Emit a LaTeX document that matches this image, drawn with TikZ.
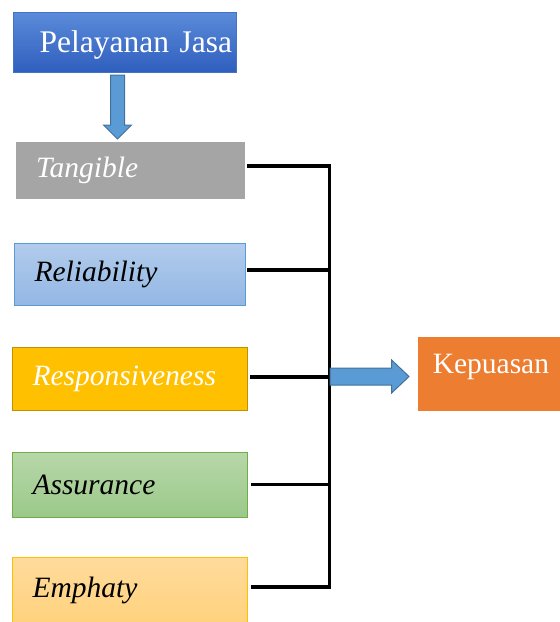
\documentclass[tikz,border=0pt]{standalone}
\usepackage{fontspec}
\setmainfont{Liberation Serif}
\usepackage{xcolor}
\usetikzlibrary{shapes.arrows,positioning}

\definecolor{jasatop}{HTML}{5B8BD9}
\definecolor{jasabot}{HTML}{2F5FBE}
\definecolor{jasaedge}{HTML}{4472C4}
\definecolor{arrfill}{HTML}{5B9BD5}
\definecolor{arredge}{HTML}{41719C}
\definecolor{tanggray}{HTML}{A5A5A5}
\definecolor{reltop}{HTML}{B2CCEC}
\definecolor{relbot}{HTML}{93B7E4}
\definecolor{reledge}{HTML}{5B9BD5}
\definecolor{resgold}{HTML}{FFC000}
\definecolor{resedge}{HTML}{BF9000}
\definecolor{asstop}{HTML}{B7D7A9}
\definecolor{assbot}{HTML}{9BC98A}
\definecolor{assedge}{HTML}{70AD47}
\definecolor{emptop}{HTML}{FFDB9C}
\definecolor{empbot}{HTML}{FFD27D}
\definecolor{empedge}{HTML}{FFC000}
\definecolor{puasorange}{HTML}{ED7D31}

\begin{document}
\begin{tikzpicture}[
    x=1pt, y=-1pt,
    dimbox/.style={rectangle, draw, line width=1pt, inner xsep=20pt, text width=195pt, align=left, font=\fontsize{29.5}{31}\selectfont\itshape},
    jasabox/.style={rectangle, draw=jasaedge, line width=1pt, top color=jasatop, bottom color=jasabot, inner xsep=4pt, text width=215pt, align=right, minimum height=60pt, text=white, text depth=0pt, font=\fontsize{31.5}{33}\selectfont},
    puasbox/.style={rectangle, fill=puasorange, minimum width=146pt, minimum height=74pt, text=white, text height=19pt, text depth=19pt, font=\fontsize{29.5}{31}\selectfont},
    blockarr/.style={single arrow, draw=arredge, fill=arrfill, line width=1pt, inner xsep=0pt},
    link/.style={draw, line width=3.5pt}
]
    \useasboundingbox (0,0) rectangle (560,622);

    % Input
    \node [jasabox] (jasa) at (124.5,42) {Pelayanan Jasa};
    \node [blockarr, rotate=-90, anchor=tail, inner ysep=6.5pt, minimum height=64pt, single arrow head extend=7pt] (arrdown) at ([xshift=-7pt,yshift=-2pt]jasa.south) {};

    % Dimensions
    \node [dimbox, fill=tanggray, draw=tanggray, text=white, text width=188pt, minimum height=56pt, below=69pt of jasa, xshift=5.5pt] (tangible) {Tangible};
    \node [dimbox, top color=reltop, bottom color=relbot, draw=reledge, text width=191pt, minimum height=62pt, below=44pt of tangible] (reliab) {Reliability};
    \node [dimbox, fill=resgold, draw=resedge, text=white, minimum height=63pt, below=41pt of reliab] (respons) {Responsiveness};
    \node [dimbox, top color=asstop, bottom color=assbot, draw=assedge, minimum height=65pt, below=41pt of respons] (assur) {Assurance};
    \node [dimbox, top color=emptop, bottom color=empbot, draw=empedge, minimum height=66pt, below=39pt of assur] (emph) {Emphaty};

    % Bus
    \coordinate (bus) at ([xshift=85pt,yshift=4pt]tangible.east);
    \path [link] ([xshift=2pt,yshift=4pt]tangible.east) -- (bus) -- ([yshift=3pt]bus |- emph.east) -- ([xshift=3pt,yshift=3pt]emph.east);
    \path [link] ([xshift=1pt,yshift=4pt]reliab.east) -- ([yshift=4pt]bus |- reliab.east);
    \path [link] ([xshift=2pt,yshift=1.5pt]respons.east) -- ([yshift=1.5pt]bus |- respons.east);
    \path [link] ([xshift=3pt]assur.east) -- (bus |- assur.east);

    % Output
    \node [blockarr, anchor=tail, inner ysep=8pt, minimum height=79pt, single arrow head extend=8pt, single arrow tip angle=87] (arrright) at ([yshift=2pt]bus |- respons.east) {};
    \node [puasbox, right=8pt of arrright, yshift=3pt] (puas) {Kepuasan};

\end{tikzpicture}
\end{document}
